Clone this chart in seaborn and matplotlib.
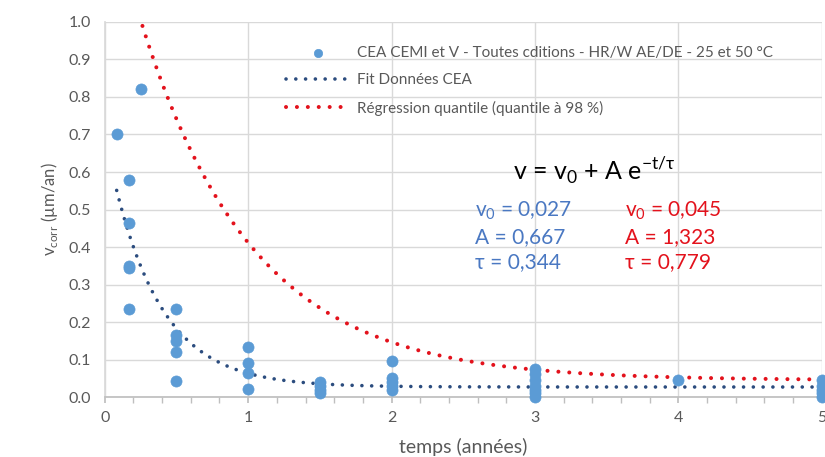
import numpy as np
import pandas as pd
import matplotlib
matplotlib.use("Agg")
import matplotlib.pyplot as plt
from matplotlib.ticker import MultipleLocator
import seaborn as sns

# Measured corrosion rates (time in years, rate in µm/an)
t_obs = [0.083, 0.25,
         0.167, 0.167, 0.167, 0.167, 0.167,
         0.5, 0.5, 0.5, 0.5, 0.5,
         1.0, 1.0, 1.0, 1.0,
         1.5, 1.5, 1.5, 1.5,
         2.0, 2.0, 2.0, 2.0, 2.0,
         3.0, 3.0, 3.0, 3.0, 3.0, 3.0, 3.0,
         4.0,
         5.0, 5.0, 5.0, 5.0, 5.0]
v_obs = [0.70, 0.82,
         0.58, 0.465, 0.35, 0.345, 0.235,
         0.235, 0.165, 0.15, 0.12, 0.043,
         0.133, 0.09, 0.064, 0.021,
         0.04, 0.03, 0.02, 0.01,
         0.097, 0.05, 0.04, 0.03, 0.02,
         0.075, 0.062, 0.045, 0.03, 0.02, 0.01, 0.0,
         0.045,
         0.045, 0.03, 0.02, 0.01, 0.0]

# Fitted parameters of v = v0 + A exp(-t/tau)
fit_cea = {"v0": 0.027, "A": 0.667, "tau": 0.344}
fit_q98 = {"v0": 0.045, "A": 1.323, "tau": 0.779}

lbl_pts = "CEA CEMI et V - Toutes cditions - HR/W AE/DE - 25 et 50 °C"
lbl_fit = "Fit Données CEA"
lbl_q98 = "Régression quantile (quantile à 98 %)"

sns.set_theme(style="white")
plt.rcParams["font.family"] = ["Lato", "DejaVu Sans"]
plt.rcParams["mathtext.fontset"] = "custom"
plt.rcParams["mathtext.rm"] = "Lato"

C_PTS = "#5B9BD5"
C_FIT = "#2B4C7E"
C_RED = "#E3121C"
C_BTXT = "#4A78C2"
C_GRAY = "#595959"
C_GRID = "#D9D9D9"

fig = plt.figure(figsize=(8.25, 4.57), dpi=100)
ax = fig.add_axes([0.127, 0.131, 0.869, 0.821])


def model(t, p):
    return p["v0"] + p["A"] * np.exp(-np.asarray(t) / p["tau"])


t1 = np.linspace(0.083, 5.0, 400)
t2 = np.linspace(0.24, 5.0, 400)
df_fit = pd.DataFrame({"t": t1, "v": model(t1, fit_cea)})
df_q = pd.DataFrame({"t": t2, "v": model(t2, fit_q98)})
df_pts = pd.DataFrame({"t": t_obs, "v": v_obs})

dot = (0, (0.01, 2.7))
sns.lineplot(data=df_q, x="t", y="v", ax=ax, color=C_RED, lw=2.9,
             linestyle=dot, dash_capstyle="round", label=lbl_q98, zorder=3)
sns.lineplot(data=df_fit, x="t", y="v", ax=ax, color=C_FIT, lw=2.6,
             linestyle=dot, dash_capstyle="round", label=lbl_fit, zorder=4)
sns.scatterplot(data=df_pts, x="t", y="v", ax=ax, color=C_PTS, s=64,
                edgecolor=C_PTS, linewidth=0.5, label=lbl_pts, zorder=5,
                clip_on=False)

ax.set_xlim(0, 5)
ax.set_ylim(0, 1.0)
ax.xaxis.set_major_locator(MultipleLocator(1))
ax.xaxis.set_minor_locator(MultipleLocator(0.2))
ax.yaxis.set_major_locator(MultipleLocator(0.1))
ax.set_yticklabels([f"{v:.1f}" for v in ax.get_yticks()])
ax.grid(True, which="major", color=C_GRID, lw=1.0)
ax.set_axisbelow(True)
for s in ["top", "right"]:
    ax.spines[s].set_visible(False)
ax.spines["left"].set_color(C_GRID)
ax.spines["bottom"].set_color("#BFBFBF")
ax.tick_params(axis="x", which="both", direction="out", length=4,
               color="#BFBFBF", labelsize=11.5, labelcolor=C_GRAY, pad=6,
               bottom=True)
ax.tick_params(axis="y", length=0, labelsize=11.5, labelcolor=C_GRAY, pad=10)

ax.set_xlabel("temps (années)", fontsize=14, color=C_GRAY, labelpad=9)
ax.set_ylabel(r"v$_\mathregular{corr}$ (µm/an)", fontsize=12, color=C_GRAY,
              labelpad=6)

# Legend in the requested order: points, CEA fit, quantile regression
h, l = ax.get_legend_handles_labels()
order = [l.index(lbl_pts), l.index(lbl_fit), l.index(lbl_q98)]
leg = ax.legend([h[i] for i in order], [l[i] for i in order],
                loc="upper left", bbox_to_anchor=(0.337, 0.917),
                bbox_transform=fig.transFigure, frameon=False, fontsize=11,
                handlelength=4.2, handletextpad=0.45, labelspacing=0.88,
                borderpad=0, markerscale=0.75)
for txt in leg.get_texts():
    txt.set_color(C_GRAY)

# Model equation and fitted parameters
fig.text(0.622, 0.627, r"v = v$_\mathregular{0}$ + A e$^{\mathregular{-t/τ}}$",
         fontsize=18, color="black", ha="left", va="center")
blue_lines = [r"v$_\mathregular{0}$ = " + f"{fit_cea['v0']:.3f}".replace(".", ","),
              f"A = {fit_cea['A']:.3f}".replace(".", ","),
              f"τ = {fit_cea['tau']:.3f}".replace(".", ",")]
red_lines = [r"v$_\mathregular{0}$ = " + f"{fit_q98['v0']:.3f}".replace(".", ","),
             f"A = {fit_q98['A']:.3f}".replace(".", ","),
             f"τ = {fit_q98['tau']:.3f}".replace(".", ",")]
for i, (bt, rt) in enumerate(zip(blue_lines, red_lines)):
    y = 0.538 - i * 0.056
    fig.text(0.576, y, bt, fontsize=15, color=C_BTXT, ha="left", va="center")
    fig.text(0.757, y, rt, fontsize=15, color=C_RED, ha="left", va="center")

fig.savefig("out.png", dpi=100)
